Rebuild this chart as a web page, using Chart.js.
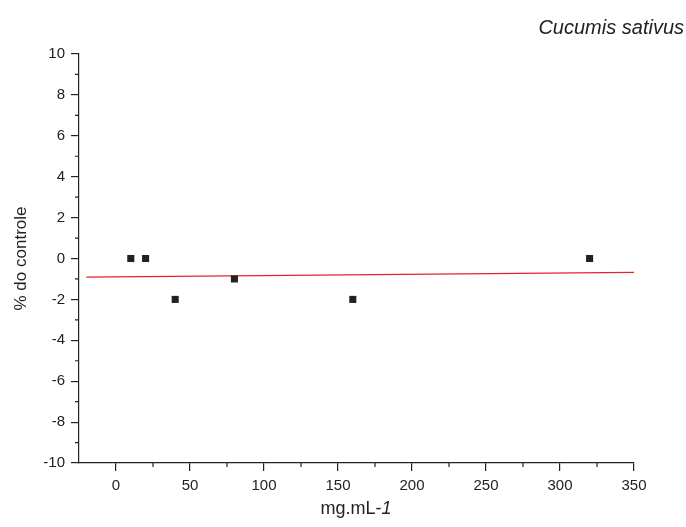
<!DOCTYPE html>
<html>
<head>
<meta charset="utf-8">
<script src="https://cdn.jsdelivr.net/npm/chart.js@4.4.0/dist/chart.umd.min.js"></script>
<style>
  html, body { margin: 0; padding: 0; background: #fff; }
  #wrap { width: 686px; height: 527px; }
</style>
</head>
<body>
<div id="wrap"><canvas id="myScatter" width="686" height="527"></canvas></div>
<script>
// data
var doses = [10, 20, 40, 80, 160, 320];
var percent = [0, 0, -2, -1, -2, 0];
// fitted line end points
var fitX = [-20, 350];
var fitY = [-0.91, -0.68];

var axisFont = "'Liberation Sans', Arial, sans-serif";
var ink = '#222';

// minor ticks, titles
var decor = {
    id: 'decor',
    afterDraw: function (chart) {
        var ctx = chart.ctx;
        var xs = chart.scales.x, ys = chart.scales.y;
        var area = chart.chartArea;
        ctx.save();
        ctx.strokeStyle = ink;
        ctx.lineWidth = 1.2;
        ctx.beginPath();
        for (var v = 25; v < 350; v += 50) {
            var px = xs.getPixelForValue(v);
            ctx.moveTo(px, area.bottom);
            ctx.lineTo(px, area.bottom + 4);
        }
        for (var w = -9; w < 10; w += 2) {
            var py = ys.getPixelForValue(w);
            ctx.moveTo(area.left, py);
            ctx.lineTo(area.left - 4, py);
        }
        ctx.stroke();

        ctx.fillStyle = ink;
        ctx.font = 'italic 20px ' + axisFont;
        ctx.textAlign = 'right';
        ctx.textBaseline = 'alphabetic';
        ctx.fillText('Cucumis sativus', 684, 34);

        // x title: mg.mL-1 with italic 1
        ctx.font = '18px ' + axisFont;
        var a = 'mg.mL-';
        var wa = ctx.measureText(a).width;
        ctx.font = 'italic 18px ' + axisFont;
        var wb = ctx.measureText('1').width;
        var x0 = 356 - (wa + wb) / 2;
        ctx.textAlign = 'left';
        ctx.font = '18px ' + axisFont;
        ctx.fillText(a, x0, 514);
        ctx.font = 'italic 18px ' + axisFont;
        ctx.fillText('1', x0 + wa, 514);

        // y title
        ctx.translate(26, (area.top + area.bottom) / 2);
        ctx.rotate(-Math.PI / 2);
        ctx.font = '17px ' + axisFont;
        ctx.textAlign = 'center';
        ctx.fillText('% do controle', 0, 0);
        ctx.restore();
    }
};

var scatterCtx = document.getElementById('myScatter').getContext('2d');
var myScatter = new Chart(scatterCtx, {
    type: 'scatter',
    data: {
        datasets: [{
            data: doses.map(function (d, i) { return { x: d, y: percent[i] }; }),
            pointStyle: 'rect',
            pointRadius: 5,
            pointBorderWidth: 0,
            backgroundColor: ink,
            borderColor: ink,
            order: 1
        },
        {
            type: 'line',
            data: fitX.map(function (d, i) { return { x: d, y: fitY[i] }; }),
            borderColor: '#e3242b',
            borderWidth: 1.3,
            pointRadius: 0,
            fill: false,
            order: 2
        }]
    },
    options: {
        responsive: false,
        animation: false,
        devicePixelRatio: 1,
        layout: { padding: { left: 0, right: 52, top: 54, bottom: 0 } },
        plugins: { legend: { display: false }, tooltip: { enabled: false } },
        scales: {
            x: {
                type: 'linear',
                min: -25,
                max: 350,
                afterFit: function (s) { s.height = 64; },
                grid: { display: true, drawOnChartArea: false, drawTicks: true, tickLength: 8, color: ink, lineWidth: 1.2 },
                border: { display: true, color: ink, width: 1.2 },
                ticks: { stepSize: 50, includeBounds: false, autoSkip: false, maxRotation: 0, color: ink, padding: 6, font: { family: axisFont, size: 15 } }
            },
            y: {
                type: 'linear',
                min: -10,
                max: 10,
                afterFit: function (s) { s.width = 79; },
                grid: { display: true, drawOnChartArea: false, drawTicks: true, tickLength: 8, color: ink, lineWidth: 1.2 },
                border: { display: true, color: ink, width: 1.2 },
                ticks: { stepSize: 2, color: ink, padding: 6, font: { family: axisFont, size: 15 } }
            }
        }
    },
    plugins: [decor]
});
</script>
</body>
</html>
